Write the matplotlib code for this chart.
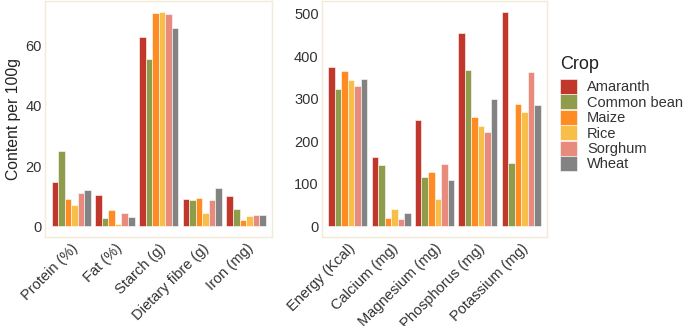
import matplotlib
matplotlib.use("Agg")
import matplotlib.pyplot as plt
from matplotlib.patches import Patch
import numpy as np

plt.rcParams['font.family'] = ['Liberation Sans', 'DejaVu Sans']

crops = ["Amaranth", "Common bean", "Maize", "Rice", "Sorghum", "Wheat"]
colors = ["#C1372B", "#8E9C4B", "#FF8C22", "#F7BF4A", "#E88A7C", "#838383"]

left_cats = ["Protein (%)", "Fat (%)", "Starch (g)", "Dietary fibre (g)", "Iron (mg)"]
left_vals = {
    "Amaranth":    [14.8, 10.5, 62.8, 9.0, 10.2],
    "Common bean": [25.0, 2.6, 55.5, 8.8, 5.7],
    "Maize":       [9.2, 5.5, 70.8, 9.5, 2.0],
    "Rice":        [7.2, 0.7, 71.2, 4.3, 3.5],
    "Sorghum":     [10.9, 4.3, 70.4, 8.8, 3.9],
    "Wheat":       [12.1, 3.0, 65.8, 12.7, 3.7],
}

right_cats = ["Energy (Kcal)", "Calcium (mg)", "Magnesium (mg)", "Phosphorus (mg)", "Potassium (mg)"]
right_vals = {
    "Amaranth":    [375, 163, 250, 456, 505],
    "Common bean": [323, 144, 115, 369, 149],
    "Maize":       [365, 20, 128, 257, 288],
    "Rice":        [345, 41, 65, 236, 268],
    "Sorghum":     [330, 16, 146, 223, 364],
    "Wheat":       [347, 31, 109, 300, 285],
}

W, H = 685, 326
fig = plt.figure(figsize=(W / 100, H / 100), dpi=100)

def px_axes(x0, y0, x1, y1):
    return fig.add_axes([x0 / W, 1 - y1 / H, (x1 - x0) / W, (y1 - y0) / H])

border = "#F3EAD8"
text_col = "#333333"

def draw(ax, cats, vals, yticks):
    n = len(crops)
    bw = 0.9 / n
    x = np.arange(len(cats))
    ymax = 0
    for i, c in enumerate(crops):
        v = vals[c]
        ymax = max(ymax, max(v))
        ax.bar(x - 0.45 + bw * (i + 0.5), v, width=bw, color=colors[i],
               edgecolor="white", linewidth=0.4)
    ax.set_xlim(-0.6, len(cats) - 0.4)
    ax.set_ylim(-0.05 * ymax, 1.05 * ymax)
    ax.set_xticks(x)
    ax.set_xticklabels(cats, rotation=45, ha="right", va="top",
                       rotation_mode="anchor", fontsize=10.5, color=text_col)
    ax.set_yticks(yticks)
    ax.set_yticklabels([str(t) for t in yticks], fontsize=10.5, color=text_col)
    ax.tick_params(axis="y", length=0, pad=2.2)
    ax.tick_params(axis="x", length=0, pad=3)
    for s in ax.spines.values():
        s.set_color(border)
        s.set_linewidth(1.0)

ax1 = px_axes(45, 1, 272.3, 237)
draw(ax1, left_cats, left_vals, [0, 20, 40, 60])
ax1.set_ylabel("Content per 100g", fontsize=11.3, color="#222222", labelpad=3)

ax2 = px_axes(321.7, 1, 547.3, 237)
draw(ax2, right_cats, right_vals, [0, 100, 200, 300, 400, 500])

fig.text(560 / W, 1 - 69 / H, "Crop", fontsize=13, color="#222222",
         ha="left", va="baseline")

handles = [Patch(facecolor=colors[i], edgecolor="white", linewidth=0.4, label=c)
           for i, c in enumerate(crops)]
fs = 10.5
fpx = fs * 100 / 72
leg = fig.legend(handles=handles, loc="upper left",
                 bbox_to_anchor=(560 / W, 1 - 79 / H), frameon=False,
                 fontsize=fs,
                 handlelength=17 / fpx, handleheight=17.5 / fpx, labelspacing=0.0,
                 handletextpad=10 / fpx, borderaxespad=0, borderpad=0)
for t in leg.get_texts():
    t.set_color(text_col)

fig.savefig("out.png", dpi=100)
